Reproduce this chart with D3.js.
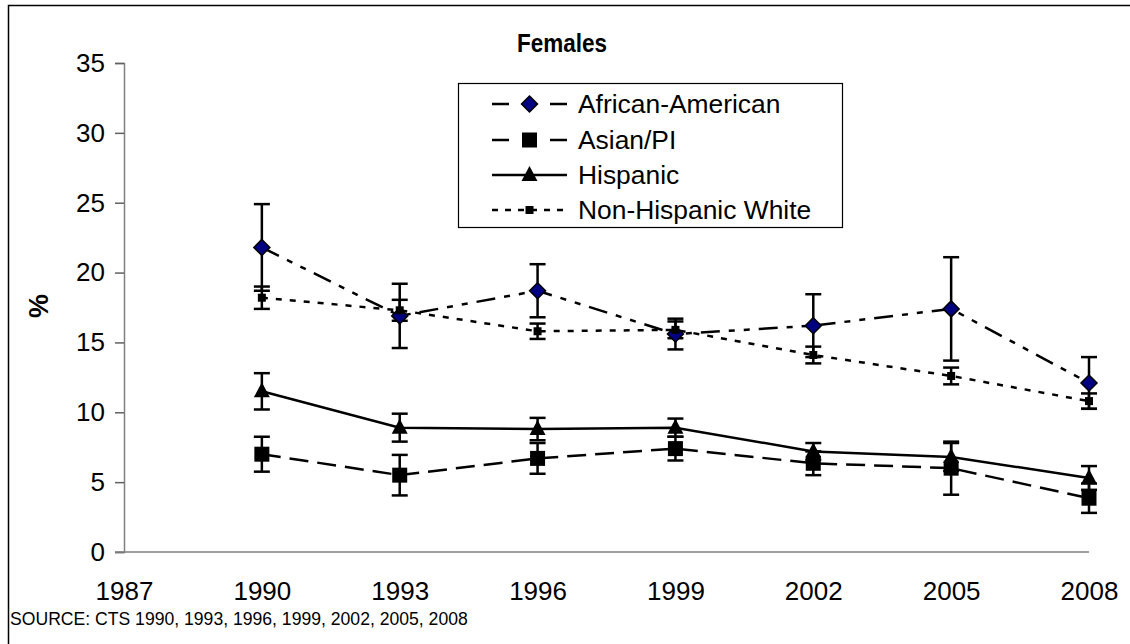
<!DOCTYPE html>
<html><head><meta charset="utf-8">
<script src="https://cdn.jsdelivr.net/npm/d3@7"></script>
<style>
html,body{margin:0;padding:0;background:#fff;}
svg{display:block;font-family:"Liberation Sans",Arial,sans-serif;}
</style></head>
<body>
<svg id="chart" width="1130" height="644"></svg>
<script>
const years = [1990, 1993, 1996, 1999, 2002, 2005, 2008];
const xTicks = [1987, 1990, 1993, 1996, 1999, 2002, 2005, 2008];
const yTicks = [0, 5, 10, 15, 20, 25, 30, 35];
const seriesNames = ["African-American", "Asian/PI", "Hispanic", "Non-Hispanic White"];
const africanAmerican = [21.8, 16.9, 18.7, 15.6, 16.2, 17.4, 12.1];
const africanAmericanErr = [3.1, 2.3, 1.9, 1.1, 2.25, 3.7, 1.85];
const asianPI = [7.0, 5.5, 6.7, 7.4, 6.35, 6.0, 3.85];
const asianPIErr = [1.25, 1.45, 1.1, 0.85, 0.85, 1.9, 1.05];
const hispanic = [11.5, 8.9, 8.8, 8.9, 7.2, 6.8, 5.3];
const hispanicErr = [1.3, 1.0, 0.8, 0.65, 0.6, 1.0, 0.85];
const nonHispanicWhite = [18.2, 17.3, 15.8, 15.9, 14.1, 12.6, 10.8];
const nonHispanicWhiteErr = [0.8, 0.75, 0.55, 0.6, 0.6, 0.6, 0.55];

const svg = d3.select("#chart");
const x = d3.scaleLinear().domain([1987, 2008]).range([124, 1089]);
const y = d3.scaleLinear().domain([0, 35]).range([552, 63]);

// outer border
svg.append("rect").attr("x", 8.5).attr("y", 5.5).attr("width", 1140).attr("height", 660)
  .attr("fill", "none").attr("stroke", "#000").attr("stroke-width", 1.5);

// y axis
const yAxis = d3.axisLeft(y).tickValues(yTicks).tickSize(9).tickPadding(10).tickFormat(d3.format("d"));
const gy = svg.append("g").attr("transform", "translate(124,0)").call(yAxis);
gy.select(".domain").attr("stroke", "#808080").attr("stroke-width", 1.5);
gy.selectAll(".tick line").attr("stroke", "#606060").attr("stroke-width", 1.5);
gy.selectAll(".tick text").attr("font-size", 26).attr("fill", "#000")
  .attr("font-family", "Liberation Sans, Arial, sans-serif");

// x axis
const xAxis = d3.axisBottom(x).tickValues(xTicks).tickSize(0).tickPadding(30).tickFormat(d3.format("d"));
const gx = svg.append("g").attr("transform", "translate(0,552)").call(xAxis);
gx.select(".domain").attr("stroke", "#808080").attr("stroke-width", 1.5)
  .attr("d", `M${x(1987) - 9},0H${x(2008)}`);
gx.selectAll(".tick text").attr("font-size", 26).attr("fill", "#000")
  .attr("font-family", "Liberation Sans, Arial, sans-serif");

// title & labels
svg.append("text").attr("x", 562).attr("y", 52).attr("text-anchor", "middle")
  .attr("font-size", 25).attr("font-weight", "bold")
  .attr("textLength", 90).attr("lengthAdjust", "spacingAndGlyphs").text("Females");
svg.append("text").attr("transform", "translate(48,306) rotate(-90)").attr("text-anchor", "middle")
  .attr("font-size", 27).attr("font-weight", "bold").text("%");
svg.append("text").attr("x", 10).attr("y", 625).attr("font-size", 17.6)
  .text("SOURCE: CTS 1990, 1993, 1996, 1999, 2002, 2005, 2008");

const series = [
  {name: seriesNames[0], values: africanAmerican, err: africanAmericanErr, dash: "19,9,6,9,6,9", legDash: "17,41", marker: "diamond"},
  {name: seriesNames[1], values: asianPI, err: asianPIErr, dash: "19,9", legDash: "17,41", marker: "square"},
  {name: seriesNames[2], values: hispanic, err: hispanicErr, dash: null, legDash: null, marker: "triangle"},
  {name: seriesNames[3], values: nonHispanicWhite, err: nonHispanicWhiteErr, dash: "6,8", legDash: "6,7", marker: "small"}
];

function drawMarker(g, type) {
  if (type === "diamond") {
    g.append("path").attr("d", "M0,-8L8,0L0,8L-8,0Z").attr("fill", "#000080").attr("stroke", "#000").attr("stroke-width", 1.5);
  } else if (type === "square") {
    g.append("rect").attr("x", -7.5).attr("y", -7.5).attr("width", 15).attr("height", 15).attr("fill", "#000");
  } else if (type === "triangle") {
    g.append("path").attr("d", "M0,-9L8,6L-8,6Z").attr("fill", "#000");
  } else {
    g.append("rect").attr("x", -4).attr("y", -4).attr("width", 8).attr("height", 8).attr("fill", "#000");
  }
}

const line = d3.line().x(d => x(d.year)).y(d => y(d.v));

// error bars first
series.forEach(s => {
  const pts = years.map((yr, i) => ({year: yr, v: s.values[i], e: s.err[i]}));
  const eg = svg.append("g").attr("stroke", "#000").attr("stroke-width", 2.5);
  pts.forEach(p => {
    eg.append("line").attr("x1", x(p.year)).attr("x2", x(p.year)).attr("y1", y(p.v + p.e)).attr("y2", y(p.v - p.e));
    eg.append("line").attr("x1", x(p.year) - 8).attr("x2", x(p.year) + 8).attr("y1", y(p.v + p.e)).attr("y2", y(p.v + p.e));
    eg.append("line").attr("x1", x(p.year) - 8).attr("x2", x(p.year) + 8).attr("y1", y(p.v - p.e)).attr("y2", y(p.v - p.e));
  });
});

series.forEach(s => {
  const pts = years.map((yr, i) => ({year: yr, v: s.values[i]}));
  svg.append("path").datum(pts).attr("d", line).attr("fill", "none").attr("stroke", "#000")
    .attr("stroke-width", 2.5).attr("stroke-dasharray", s.dash);
  pts.forEach(p => {
    const g = svg.append("g").attr("transform", `translate(${x(p.year)},${y(p.v)})`);
    drawMarker(g, s.marker);
  });
});

// legend
const leg = svg.append("g");
leg.append("rect").attr("x", 458.5).attr("y", 83.5).attr("width", 384).attr("height", 144)
  .attr("fill", "#fff").attr("stroke", "#000").attr("stroke-width", 1.2);
const rowY = [104, 140, 175, 210];
series.forEach((s, i) => {
  const ry = rowY[i];
  leg.append("line").attr("x1", 492).attr("x2", 567).attr("y1", ry).attr("y2", ry)
    .attr("stroke", "#000").attr("stroke-width", 2.5).attr("stroke-dasharray", s.legDash);
  const g = leg.append("g").attr("transform", `translate(529.5,${ry})`);
  drawMarker(g, s.marker);
  leg.append("text").attr("x", 578).attr("y", ry + 9).attr("font-size", 26.4).text(s.name);
});
</script>
</body></html>
